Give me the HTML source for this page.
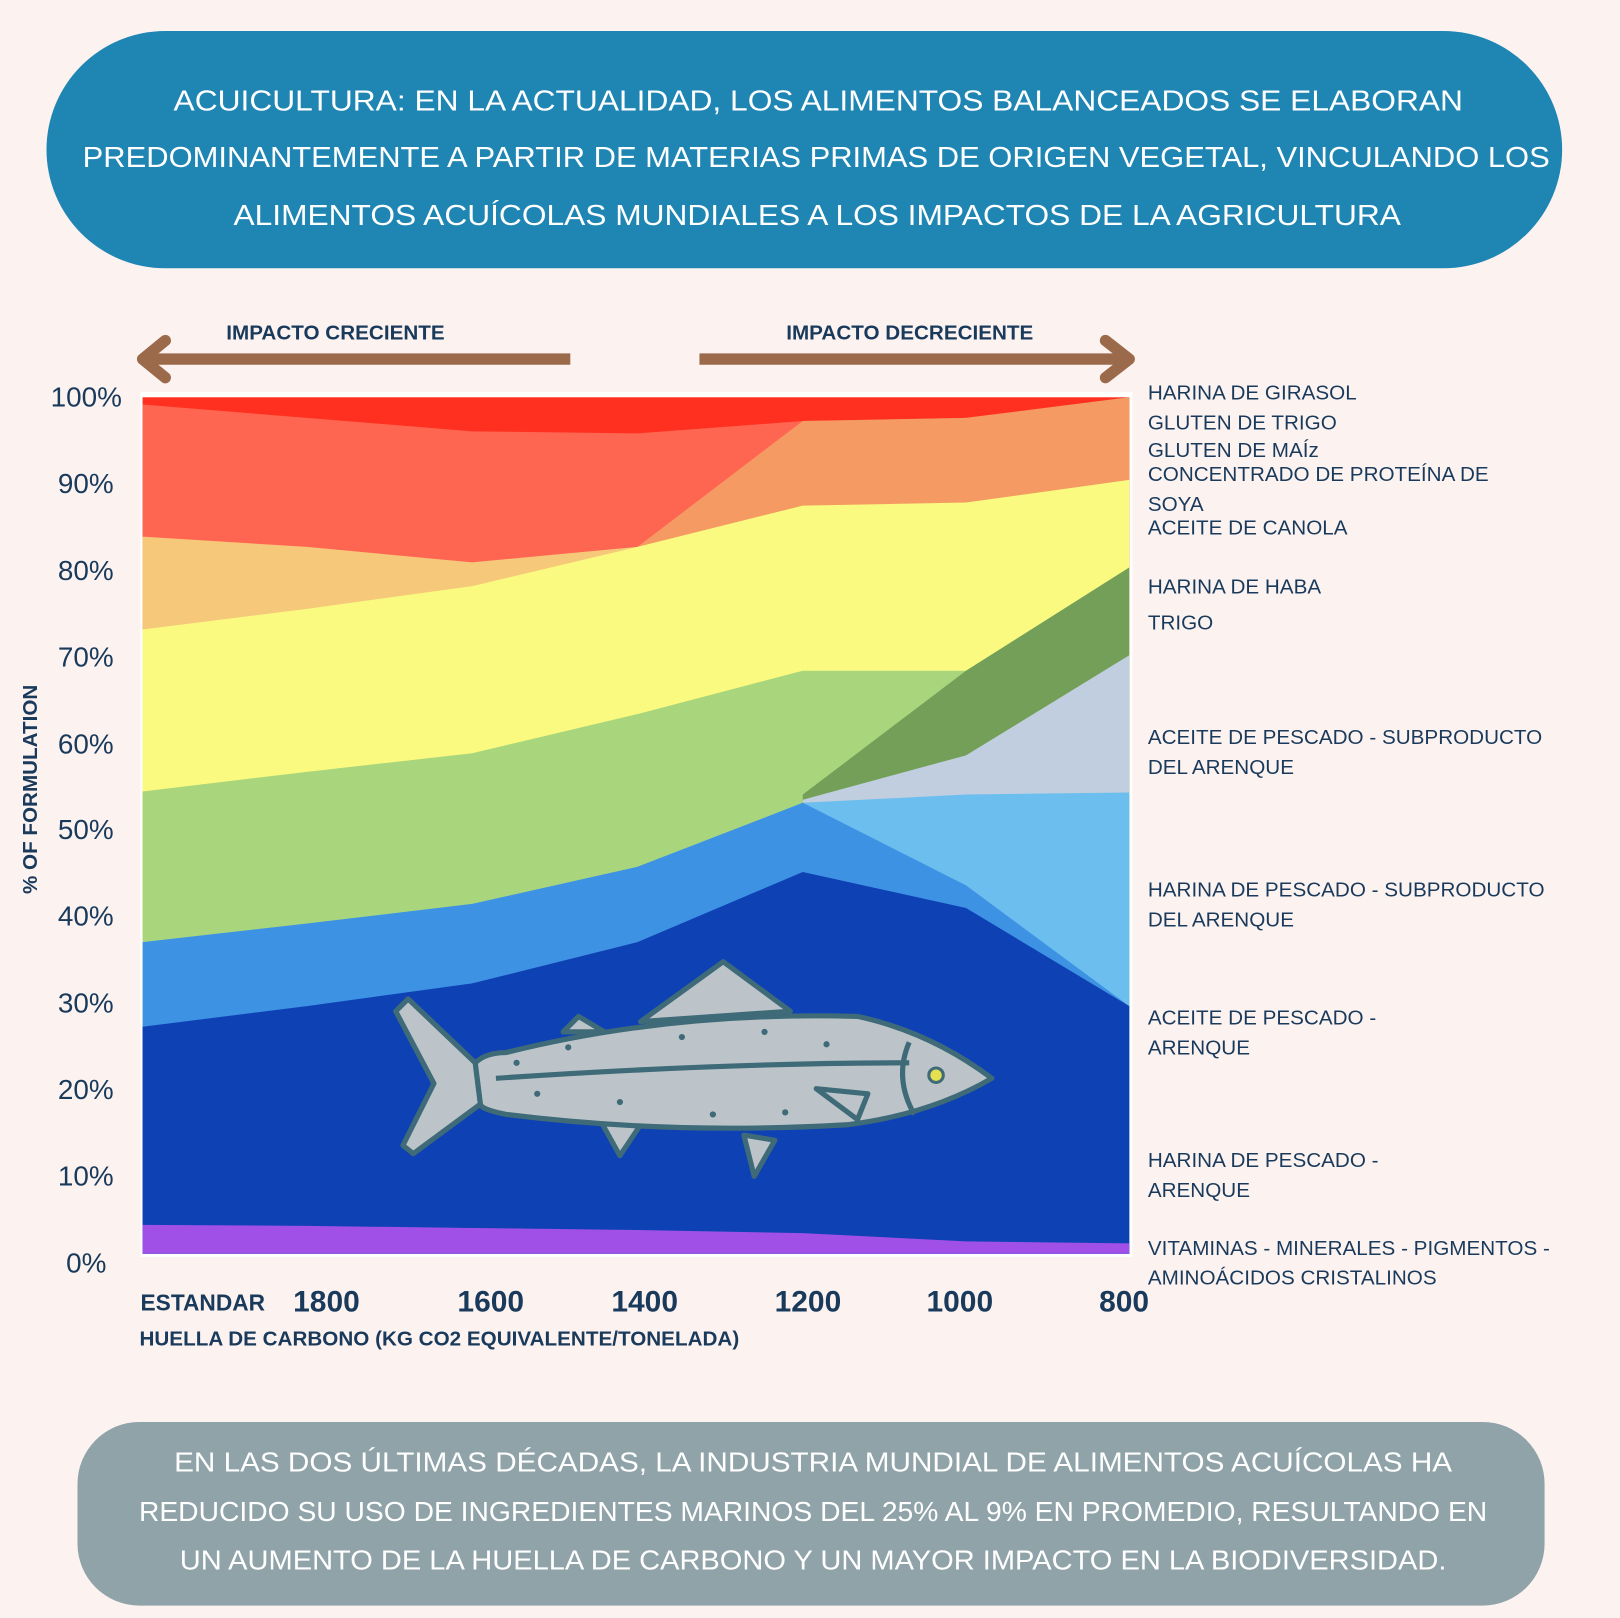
<!DOCTYPE html>
<html><head><meta charset="utf-8"><style>
html,body{margin:0;padding:0;background:#FCF3F1;}
svg{display:block}
text{font-family:"Liberation Sans","DejaVu Sans",sans-serif;}
</style></head><body>
<svg width="1620" height="1618" viewBox="0 0 1568 1568" preserveAspectRatio="none" xmlns="http://www.w3.org/2000/svg">
<rect width="1568" height="1568" fill="#FCF3F1"/>
<rect x="45" y="30" width="1467" height="230" rx="115" fill="#1F86B4"/>
<g fill="#fff" font-size="28" text-anchor="middle" lengthAdjust="spacingAndGlyphs">
<text x="792" y="107" textLength="1248" lengthAdjust="spacingAndGlyphs">ACUICULTURA: EN LA ACTUALIDAD, LOS ALIMENTOS BALANCEADOS SE ELABORAN</text>
<text x="790" y="162" textLength="1420" lengthAdjust="spacingAndGlyphs">PREDOMINANTEMENTE A PARTIR DE MATERIAS PRIMAS DE ORIGEN VEGETAL, VINCULANDO LOS</text>
<text x="791" y="218" textLength="1130" lengthAdjust="spacingAndGlyphs">ALIMENTOS ACUÍCOLAS MUNDIALES A LOS IMPACTOS DE LA AGRICULTURA</text>
</g>
<g fill="#1A3A5C" font-size="20" font-weight="bold">
<text x="219" y="329">IMPACTO CRECIENTE</text>
<text x="761" y="329">IMPACTO DECRECIENTE</text>
</g>
<g stroke="#9A6A4A" stroke-width="11" fill="none" stroke-linecap="round" stroke-linejoin="round">
<line x1="140" y1="348" x2="552" y2="348" stroke-linecap="butt"/>
<polyline points="160,330 138,348 160,366"/>
<line x1="677" y1="348" x2="1090" y2="348" stroke-linecap="butt"/>
<polyline points="1070,330 1093,348 1070,366"/>
</g>
<rect x="136" y="380" width="960" height="838" fill="#fff"/>
<rect x="138" y="385" width="955" height="830" fill="#FF3020"/>
<polygon points="138,392 297,405 457,418 617,420 777,408 935,405 1093,385 1093,1215 138,1215" fill="#FF6652"/>
<polygon points="617,530 777,408 935,405 1093,385 1093,1215 617,1215" fill="#F49A62"/>
<polygon points="138,520 297,530 457,545 617,530 617,1215 138,1215" fill="#F6C87A"/>
<polygon points="138,610 297,590 457,568 617,530 777,490 935,487 1093,465 1093,1215 138,1215" fill="#FAFA80"/>
<polygon points="138,767 297,748 457,730 617,692 777,650 935,650 1093,550 1093,1215 138,1215" fill="#A9D67C"/>
<polygon points="777,770 935,650 1093,550 1093,1215 777,1215" fill="#739F58"/>
<polygon points="777,775 935,732 1093,635 1093,1215 777,1215" fill="#C0CEDF"/>
<polygon points="777,778 935,770 1093,768 1093,1215 777,1215" fill="#6BBEEE"/>
<polygon points="138,913 297,895 457,876 617,840 777,778 935,858 1093,975 1093,1215 138,1215" fill="#3E92E4"/>
<polygon points="138,995 297,975 457,953 617,913 777,845 935,880 1093,975 1093,1215 138,1215" fill="#0E41B4"/>
<polygon points="138,1187 297,1188 457,1190 617,1192 777,1195 935,1203 1093,1205 1093,1215 138,1215" fill="#A050E6"/>
<g stroke="#3F6A78" stroke-width="5" stroke-linejoin="round" fill="#BCC4CA">
<path d="M620,990 L700,932 L765,980 Z"/>
<path d="M545,1000 L560,985 L585,1000 Z"/>
<path d="M575,1075 L600,1120 L620,1090 Z"/>
<path d="M720,1100 L730,1140 L750,1105 Z"/>
<path d="M460,1030 L395,968 L383,980 L420,1050 L390,1110 L400,1118 L465,1070 Z"/>
<path d="M460,1030 Q470,1020 490,1020 Q650,980 830,985 Q900,1000 960,1045 Q900,1080 820,1090 Q650,1100 490,1080 Q465,1075 465,1070 Z"/>
<path d="M480,1045 Q700,1030 880,1030" fill="none"/>
<path d="M790,1055 L840,1060 L830,1085 Z"/>
<path d="M880,1010 Q865,1045 885,1080" fill="none"/>
</g>
<circle cx="906" cy="1042" r="7" fill="#E4E050" stroke="#3F6A78" stroke-width="3"/>
<g fill="#3F6A78">
<circle cx="500" cy="1030" r="3"/><circle cx="550" cy="1015" r="3"/><circle cx="600" cy="1068" r="3"/>
<circle cx="660" cy="1005" r="3"/><circle cx="740" cy="1000" r="3"/><circle cx="800" cy="1012" r="3"/>
<circle cx="690" cy="1080" r="3"/><circle cx="760" cy="1078" r="3"/><circle cx="520" cy="1060" r="3"/>
</g>
<g fill="#1A3A5C" font-size="27" text-anchor="end">
<text x="118" y="394">100%</text><text x="110" y="478">90%</text><text x="110" y="562">80%</text>
<text x="110" y="646">70%</text><text x="110" y="730">60%</text><text x="110" y="813">50%</text>
<text x="110" y="897">40%</text><text x="110" y="981">30%</text><text x="110" y="1065">20%</text>
<text x="110" y="1149">10%</text><text x="103" y="1233">0%</text>
</g>
<text transform="translate(36,765) rotate(-90)" fill="#1A3A5C" font-size="20" font-weight="bold" text-anchor="middle">% OF FORMULATION</text>
<g fill="#1A3A5C" font-weight="bold">
<text x="136" y="1270" font-size="22">ESTANDAR</text>
<g font-size="29" text-anchor="middle">
<text x="316" y="1271">1800</text><text x="475" y="1271">1600</text><text x="624" y="1271">1400</text>
<text x="782" y="1271">1200</text><text x="929" y="1271">1000</text><text x="1088" y="1271">800</text>
</g>
<text x="135" y="1304" font-size="20">HUELLA DE CARBONO (KG CO2 EQUIVALENTE/TONELADA)</text>
</g>
<g fill="#1A3A5C" font-size="20">
<text x="1111" y="387">HARINA DE GIRASOL</text>
<text x="1111" y="416">GLUTEN DE TRIGO</text>
<text x="1111" y="443">GLUTEN DE MAÍz</text>
<text x="1111" y="466">CONCENTRADO DE PROTEÍNA DE</text>
<text x="1111" y="495">SOYA</text>
<text x="1111" y="518">ACEITE DE CANOLA</text>
<text x="1111" y="575">HARINA DE HABA</text>
<text x="1111" y="610">TRIGO</text>
<text x="1111" y="721">ACEITE DE PESCADO - SUBPRODUCTO</text>
<text x="1111" y="750">DEL ARENQUE</text>
<text x="1111" y="869">HARINA DE PESCADO - SUBPRODUCTO</text>
<text x="1111" y="898">DEL ARENQUE</text>
<text x="1111" y="993">ACEITE DE PESCADO -</text>
<text x="1111" y="1022">ARENQUE</text>
<text x="1111" y="1131">HARINA DE PESCADO -</text>
<text x="1111" y="1160">ARENQUE</text>
<text x="1111" y="1216">VITAMINAS - MINERALES - PIGMENTOS -</text>
<text x="1111" y="1245">AMINOÁCIDOS CRISTALINOS</text>
</g>
<rect x="75" y="1378" width="1420" height="178" rx="60" fill="#8FA3A9"/>
<g fill="#fff" font-size="27" text-anchor="middle">
<text x="787" y="1426" textLength="1237" lengthAdjust="spacingAndGlyphs">EN LAS DOS ÚLTIMAS DÉCADAS, LA INDUSTRIA MUNDIAL DE ALIMENTOS ACUÍCOLAS HA</text>
<text x="787" y="1474" textLength="1305" lengthAdjust="spacingAndGlyphs">REDUCIDO SU USO DE INGREDIENTES MARINOS DEL 25% AL 9% EN PROMEDIO, RESULTANDO EN</text>
<text x="787" y="1521" textLength="1226" lengthAdjust="spacingAndGlyphs">UN AUMENTO DE LA HUELLA DE CARBONO Y UN MAYOR IMPACTO EN LA BIODIVERSIDAD.</text>
</g>
</svg>
</body></html>
